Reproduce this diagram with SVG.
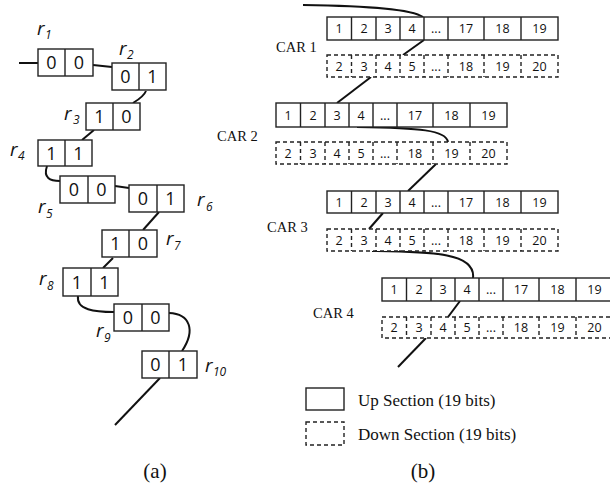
<svg xmlns="http://www.w3.org/2000/svg" width="610" height="485" viewBox="0 0 610 485">
<style>
.bx{fill:#fff;stroke:#222;stroke-width:1.4}
.dv{stroke:#222;stroke-width:1.4}
.ds{fill:#fff;stroke:#222;stroke-width:1.4;stroke-dasharray:4 3}
.dd{stroke:#222;stroke-width:1.4;stroke-dasharray:4 3}
.d{font-family:"Open Sans","Liberation Sans",sans-serif;font-size:18px;fill:#111;text-anchor:middle}
.c{font-family:"Open Sans","Liberation Sans",sans-serif;font-size:12.5px;fill:#111;text-anchor:middle}
.r{font-family:"Open Sans","Liberation Sans",sans-serif;font-style:italic;font-size:19px;fill:#111}
.s{font-family:"Open Sans","Liberation Sans",sans-serif;font-style:italic;font-size:12px;fill:#111}
.t{font-family:"Liberation Serif","Times New Roman",serif;fill:#111}
.ln{fill:none;stroke:#111;stroke-width:2}
</style>
<g id="connectors">
<path class="ln" d="M19,63 H38"/>
<path class="ln" d="M93,65 L112,67"/>
<path class="ln" d="M146,91 C144,96 138,100 133,103"/>
<path class="ln" d="M94,130 L82,140"/>
<path class="ln" d="M47,166 C43,178 50,181 60,181"/>
<path class="ln" d="M115,186 L129,188"/>
<path class="ln" d="M159,212 L143,230"/>
<path class="ln" d="M113,258 L103,268"/>
<path class="ln" d="M78,296 C76,310 95,312 114,312"/>
<path class="ln" d="M169,313 C190,314 196,330 182,351"/>
<path class="ln" d="M160,378 L115,425"/>
<path class="ln" d="M303,5 C370,6 412,9 423,17"/>
<path class="ln" d="M424,40 L403,55"/>
<path class="ln" d="M371,77 L337,103"/>
<path class="ln" d="M357,127 C420,128 446,130 448,142"/>
<path class="ln" d="M436,164 L408,191"/>
<path class="ln" d="M383,213 L369,229"/>
<path class="ln" d="M372,251 C430,252 476,252 473,278"/>
<path class="ln" d="M460,301 L448,317"/>
<path class="ln" d="M426,338 L398,367"/>
</g>
<g id="r1"><rect class="bx" x="38" y="49" width="55" height="27"/><line class="dv" x1="65" y1="49" x2="65" y2="76"/><text class="d" x="51.5" y="69">0</text><text class="d" x="79" y="69">0</text><text class="r" x="37" y="35">r</text><text class="s" x="45" y="39">1</text></g>
<g id="r2"><rect class="bx" x="112" y="63" width="54" height="27"/><line class="dv" x1="139" y1="63" x2="139" y2="90"/><text class="d" x="125.5" y="83">0</text><text class="d" x="152.5" y="83">1</text><text class="r" x="119" y="55">r</text><text class="s" x="127" y="59">2</text></g>
<g id="r3"><rect class="bx" x="86" y="103" width="54" height="27"/><line class="dv" x1="113" y1="103" x2="113" y2="130"/><text class="d" x="99.5" y="123">1</text><text class="d" x="126.5" y="123">0</text><text class="r" x="64" y="120">r</text><text class="s" x="73" y="124">3</text></g>
<g id="r4"><rect class="bx" x="38" y="140" width="54" height="26"/><line class="dv" x1="65" y1="140" x2="65" y2="166"/><text class="d" x="51.5" y="159.5">1</text><text class="d" x="78.5" y="159.5">1</text><text class="r" x="10" y="156">r</text><text class="s" x="18" y="160">4</text></g>
<g id="r5"><rect class="bx" x="60" y="176" width="55" height="27"/><line class="dv" x1="88" y1="176" x2="88" y2="203"/><text class="d" x="74" y="196">0</text><text class="d" x="101.5" y="196">0</text><text class="r" x="38" y="213">r</text><text class="s" x="46" y="218">5</text></g>
<g id="r6"><rect class="bx" x="129" y="185" width="55" height="27"/><line class="dv" x1="157" y1="185" x2="157" y2="212"/><text class="d" x="143" y="205">0</text><text class="d" x="170.5" y="205">1</text><text class="r" x="197" y="206">r</text><text class="s" x="206" y="211">6</text></g>
<g id="r7"><rect class="bx" x="102" y="230" width="55" height="27"/><line class="dv" x1="129" y1="230" x2="129" y2="257"/><text class="d" x="115.5" y="250">1</text><text class="d" x="143" y="250">0</text><text class="r" x="166" y="245">r</text><text class="s" x="174" y="250">7</text></g>
<g id="r8"><rect class="bx" x="63" y="268" width="55" height="28"/><line class="dv" x1="91" y1="268" x2="91" y2="296"/><text class="d" x="77" y="288.5">1</text><text class="d" x="104.5" y="288.5">1</text><text class="r" x="39" y="285">r</text><text class="s" x="47" y="290">8</text></g>
<g id="r9"><rect class="bx" x="114" y="304" width="55" height="27"/><line class="dv" x1="142" y1="304" x2="142" y2="331"/><text class="d" x="128" y="324">0</text><text class="d" x="155.5" y="324">0</text><text class="r" x="96" y="337">r</text><text class="s" x="104" y="342">9</text></g>
<g id="r10"><rect class="bx" x="142" y="351" width="55" height="27"/><line class="dv" x1="169" y1="351" x2="169" y2="378"/><text class="d" x="155.5" y="371">0</text><text class="d" x="183" y="371">1</text><text class="r" x="205" y="372">r</text><text class="s" x="213" y="376">10</text></g>
<text class="t" x="155" y="478" font-size="21" text-anchor="middle">(a)</text>

<g id="car1-up" transform="translate(327,17)">
<rect class="bx" x="0" y="0" width="231" height="23"/>
<path class="dv" d="M24.5,0V23M49,0V23M73,0V23M97,0V23M121,0V23M157,0V23M194,0V23"/>
<g class="c"><text x="12" y="16">1</text><text x="37" y="16">2</text><text x="61" y="16">3</text><text x="85" y="16">4</text><text x="109" y="16">...</text><text x="139" y="16">17</text><text x="175.5" y="16">18</text><text x="212.5" y="16">19</text></g>
</g>
<g id="car1-down" transform="translate(327,55)">
<rect class="ds" x="0" y="0" width="231" height="22"/>
<path class="dd" d="M24.5,0V22M49,0V22M73,0V22M97,0V22M121,0V22M157,0V22M194,0V22"/>
<g class="c"><text x="12" y="15.5">2</text><text x="37" y="15.5">3</text><text x="61" y="15.5">4</text><text x="85" y="15.5">5</text><text x="109" y="15.5">...</text><text x="139" y="15.5">18</text><text x="175.5" y="15.5">19</text><text x="212.5" y="15.5">20</text></g>
</g>
<text class="t" x="276" y="52" font-size="14.5">CAR 1</text>

<g id="car2-up" transform="translate(276,103)">
<rect class="bx" x="0" y="0" width="231" height="24"/>
<path class="dv" d="M24.5,0V24M49,0V24M73,0V24M97,0V24M121,0V24M157,0V24M194,0V24"/>
<g class="c"><text x="12" y="16.5">1</text><text x="37" y="16.5">2</text><text x="61" y="16.5">3</text><text x="85" y="16.5">4</text><text x="109" y="16.5">...</text><text x="139" y="16.5">17</text><text x="175.5" y="16.5">18</text><text x="212.5" y="16.5">19</text></g>
</g>
<g id="car2-down" transform="translate(276,142)">
<rect class="ds" x="0" y="0" width="231" height="22"/>
<path class="dd" d="M24.5,0V22M49,0V22M73,0V22M97,0V22M121,0V22M157,0V22M194,0V22"/>
<g class="c"><text x="12" y="15.5">2</text><text x="37" y="15.5">3</text><text x="61" y="15.5">4</text><text x="85" y="15.5">5</text><text x="109" y="15.5">...</text><text x="139" y="15.5">18</text><text x="175.5" y="15.5">19</text><text x="212.5" y="15.5">20</text></g>
</g>
<text class="t" x="217" y="141" font-size="14.5">CAR 2</text>

<g id="car3-up" transform="translate(327,191)">
<rect class="bx" x="0" y="0" width="231" height="22"/>
<path class="dv" d="M24.5,0V22M49,0V22M73,0V22M97,0V22M121,0V22M157,0V22M194,0V22"/>
<g class="c"><text x="12" y="15.5">1</text><text x="37" y="15.5">2</text><text x="61" y="15.5">3</text><text x="85" y="15.5">4</text><text x="109" y="15.5">...</text><text x="139" y="15.5">17</text><text x="175.5" y="15.5">18</text><text x="212.5" y="15.5">19</text></g>
</g>
<g id="car3-down" transform="translate(327,229)">
<rect class="ds" x="0" y="0" width="231" height="22"/>
<path class="dd" d="M24.5,0V22M49,0V22M73,0V22M97,0V22M121,0V22M157,0V22M194,0V22"/>
<g class="c"><text x="12" y="15.5">2</text><text x="37" y="15.5">3</text><text x="61" y="15.5">4</text><text x="85" y="15.5">5</text><text x="109" y="15.5">...</text><text x="139" y="15.5">18</text><text x="175.5" y="15.5">19</text><text x="212.5" y="15.5">20</text></g>
</g>
<text class="t" x="267" y="232" font-size="14.5">CAR 3</text>

<g id="car4-up" transform="translate(382,278)">
<rect class="bx" x="0" y="0" width="231" height="23"/>
<path class="dv" d="M24.5,0V23M49,0V23M73,0V23M97,0V23M121,0V23M157,0V23M194,0V23"/>
<g class="c"><text x="12" y="16">1</text><text x="37" y="16">2</text><text x="61" y="16">3</text><text x="85" y="16">4</text><text x="109" y="16">...</text><text x="139" y="16">17</text><text x="175.5" y="16">18</text><text x="212.5" y="16">19</text></g>
</g>
<g id="car4-down" transform="translate(382,317)">
<rect class="ds" x="0" y="0" width="231" height="21"/>
<path class="dd" d="M24.5,0V21M49,0V21M73,0V21M97,0V21M121,0V21M157,0V21M194,0V21"/>
<g class="c"><text x="12" y="15">2</text><text x="37" y="15">3</text><text x="61" y="15">4</text><text x="85" y="15">5</text><text x="109" y="15">...</text><text x="139" y="15">18</text><text x="175.5" y="15">19</text><text x="212.5" y="15">20</text></g>
</g>
<text class="t" x="313" y="318" font-size="14.5">CAR 4</text>

<g id="legend">
<rect class="bx" x="306" y="388" width="38" height="22"/>
<text class="t" x="358" y="406" font-size="17">Up Section (19 bits)</text>
<rect class="ds" x="306" y="422" width="38" height="23"/>
<text class="t" x="358" y="440" font-size="17">Down Section (19 bits)</text>
</g>
<text class="t" x="423" y="478" font-size="21" text-anchor="middle">(b)</text>
</svg>
